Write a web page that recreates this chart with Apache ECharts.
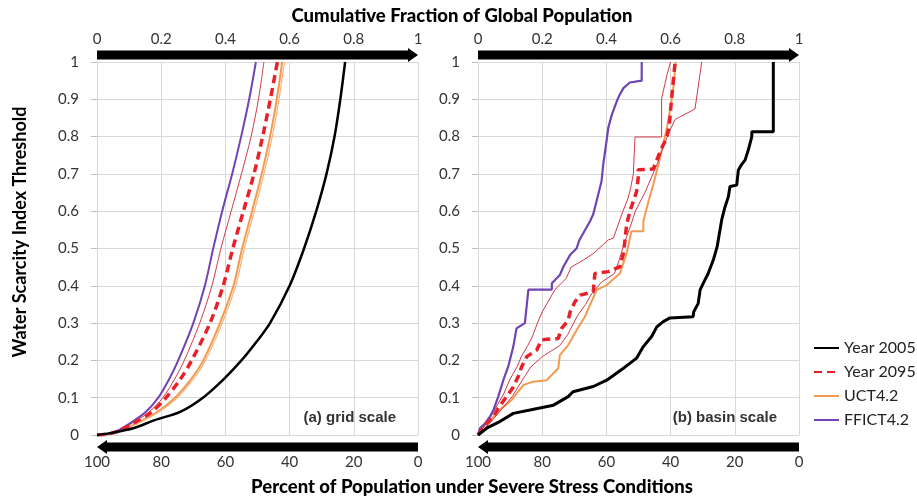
<!DOCTYPE html>
<html><head><meta charset="utf-8">
<script src="https://cdn.jsdelivr.net/npm/echarts@6/dist/echarts.min.js"></script>
<style>html,body{margin:0;padding:0;background:#fff}#main{width:917px;height:496px}</style>
</head><body><div id="main"></div>
<script>
// ---------- tick labels ----------
const topTickLabels = ['0', '0.2', '0.4', '0.6', '0.8', '1'];
const bottomTickLabels = ['100', '80', '60', '40', '20', '0'];
const yTickLabels = ['0', '0.1', '0.2', '0.3', '0.4', '0.5', '0.6', '0.7', '0.8', '0.9', '1'];
const legendNames = ['Year 2005', 'Year 2095', 'UCT4.2', 'FFICT4.2'];
const panelLabels = ['(a) grid scale', '(b) basin scale'];

// ---------- (a) grid scale: x = cumulative fraction, y = threshold ----------
const gridBlackX = [0, 0.04, 0.113, 0.18, 0.259, 0.33, 0.395, 0.45, 0.497, 0.539, 0.6, 0.645, 0.683, 0.715, 0.74, 0.758, 0.773];
const gridBlackY = [0, 0.005, 0.018, 0.04, 0.062, 0.1, 0.15, 0.2, 0.25, 0.3, 0.4, 0.5, 0.6, 0.7, 0.8, 0.9, 1.0];
const gridLevels = [0, 0.002, 0.01, 0.03, 0.06, 0.1, 0.15, 0.2, 0.3, 0.4, 0.5, 0.6, 0.7, 0.8, 0.9, 1.0];
const gridPurpleX = [0, 0.03, 0.06, 0.1, 0.15, 0.191, 0.225, 0.253, 0.30, 0.336, 0.362, 0.39, 0.421, 0.449, 0.474, 0.495];
const gridThinRedX = [0, 0.03, 0.062, 0.105, 0.16, 0.205, 0.242, 0.272, 0.32, 0.358, 0.386, 0.418, 0.45, 0.48, 0.503, 0.52];
const gridDashedX = [0, 0.03, 0.065, 0.11, 0.168, 0.215, 0.26, 0.295, 0.352, 0.393, 0.423, 0.456, 0.489, 0.516, 0.54, 0.562];
const gridOrangeX = [0, 0.03, 0.068, 0.12, 0.185, 0.243, 0.293, 0.331, 0.383, 0.425, 0.452, 0.483, 0.513, 0.539, 0.56, 0.577];
const gridOrange2X = [0, 0.03, 0.07, 0.124, 0.19, 0.25, 0.3, 0.338, 0.39, 0.432, 0.459, 0.49, 0.52, 0.546, 0.567, 0.584];

// ---------- (b) basin scale ----------
const basinBlackX = [0, 0.006, 0.03, 0.068, 0.11, 0.162, 0.235, 0.281, 0.296, 0.359, 0.401, 0.453, 0.473, 0.494, 0.515, 0.541, 0.557, 0.577, 0.598, 0.67, 0.672, 0.686, 0.692, 0.702, 0.717, 0.733, 0.745, 0.752, 0.759, 0.769, 0.78, 0.785, 0.806, 0.811, 0.821, 0.832, 0.842, 0.853, 0.853, 0.92, 0.92];
const basinBlackY = [0, 0.005, 0.02, 0.036, 0.058, 0.067, 0.08, 0.103, 0.116, 0.13, 0.147, 0.179, 0.192, 0.206, 0.237, 0.264, 0.29, 0.304, 0.314, 0.317, 0.33, 0.353, 0.389, 0.407, 0.433, 0.469, 0.505, 0.54, 0.576, 0.61, 0.639, 0.666, 0.67, 0.71, 0.725, 0.737, 0.764, 0.8, 0.813, 0.813, 1.0];
const basinPurpleX = [0, 0.006, 0.022, 0.037, 0.048, 0.063, 0.079, 0.094, 0.11, 0.12, 0.146, 0.157, 0.23, 0.23, 0.255, 0.266, 0.287, 0.307, 0.316, 0.349, 0.359, 0.372, 0.385, 0.39, 0.399, 0.406, 0.417, 0.432, 0.44, 0.453, 0.473, 0.51, 0.51];
const basinPurpleY = [0, 0.018, 0.031, 0.049, 0.067, 0.103, 0.147, 0.183, 0.237, 0.286, 0.3, 0.39, 0.39, 0.407, 0.429, 0.451, 0.483, 0.5, 0.523, 0.573, 0.592, 0.636, 0.681, 0.725, 0.779, 0.824, 0.859, 0.894, 0.91, 0.93, 0.945, 0.95, 1.0];
const basinDashedX = [0, 0.022, 0.048, 0.063, 0.089, 0.11, 0.125, 0.136, 0.152, 0.183, 0.198, 0.25, 0.26, 0.281, 0.287, 0.302, 0.318, 0.359, 0.364, 0.406, 0.442, 0.453, 0.458, 0.463, 0.473, 0.494, 0.499, 0.499, 0.546, 0.551, 0.572, 0.588, 0.596, 0.603, 0.614];
const basinDashedY = [0, 0.027, 0.049, 0.072, 0.103, 0.129, 0.156, 0.183, 0.21, 0.228, 0.255, 0.259, 0.285, 0.308, 0.33, 0.357, 0.375, 0.384, 0.433, 0.438, 0.451, 0.487, 0.523, 0.564, 0.599, 0.653, 0.689, 0.711, 0.713, 0.725, 0.769, 0.796, 0.832, 0.9, 1.0];
const basinOrangeX = [0, 0.022, 0.048, 0.074, 0.105, 0.125, 0.141, 0.172, 0.214, 0.25, 0.255, 0.281, 0.307, 0.333, 0.349, 0.37, 0.401, 0.442, 0.463, 0.478, 0.515, 0.515, 0.531, 0.546, 0.562, 0.577, 0.59, 0.6, 0.61, 0.616];
const basinOrangeY = [0, 0.027, 0.049, 0.072, 0.094, 0.116, 0.134, 0.143, 0.147, 0.179, 0.214, 0.241, 0.281, 0.317, 0.349, 0.389, 0.402, 0.433, 0.487, 0.546, 0.546, 0.573, 0.626, 0.671, 0.725, 0.779, 0.83, 0.88, 0.94, 1.0];
const basinThinRedAX = [0, 0.02, 0.04, 0.06, 0.08, 0.1, 0.12, 0.135, 0.155, 0.17, 0.185, 0.2, 0.22, 0.24, 0.275, 0.29, 0.33, 0.36, 0.406, 0.422, 0.448, 0.468, 0.475, 0.484, 0.489, 0.572, 0.572, 0.59, 0.6];
const basinThinRedAY = [0, 0.025, 0.05, 0.08, 0.11, 0.15, 0.18, 0.21, 0.24, 0.265, 0.3, 0.33, 0.36, 0.39, 0.42, 0.45, 0.47, 0.487, 0.523, 0.528, 0.592, 0.636, 0.66, 0.7, 0.799, 0.799, 0.902, 0.97, 1.0];
const basinThinRedBX = [0, 0.04, 0.075, 0.108, 0.14, 0.165, 0.2, 0.255, 0.28, 0.31, 0.335, 0.355, 0.385, 0.425, 0.44, 0.458, 0.475, 0.49, 0.52, 0.545, 0.56, 0.58, 0.6, 0.614, 0.676, 0.697];
const basinThinRedBY = [0, 0.035, 0.07, 0.105, 0.15, 0.183, 0.21, 0.24, 0.27, 0.32, 0.35, 0.38, 0.41, 0.433, 0.47, 0.52, 0.56, 0.6, 0.65, 0.7, 0.73, 0.78, 0.82, 0.846, 0.874, 1.0];

// ---------- styling ----------
const FONT = 'Lato, "Open Sans", sans-serif';
const LABEL_FONT = '"Liberation Sans", Arial, sans-serif';
const C_BLACK = '#000000', C_RED = '#e8202a', C_THIN = '#cf3a4a', C_ORANGE = '#f39a4f', C_ORANGE2 = '#f7b27a', C_PURPLE = '#7044b4';
const GRIDLINE = '#d9d9d9';
const TICK_COLOR = '#333333';

function zip(xs, ys) { return xs.map((x, i) => [x, ys[i]]); }

const grids = [
  { left: 97, top: 62, width: 321, height: 373, outerBoundsMode: 'none' },
  { left: 478, top: 62, width: 321, height: 373, outerBoundsMode: 'none' }
];

const xAxes = [], yAxes = [];
[0, 1].forEach(g => {
  xAxes.push({
    gridIndex: g, type: 'value', position: 'top', min: 0, max: 1, interval: 0.2,
    axisLine: { show: false }, axisTick: { show: false },
    axisLabel: { margin: 15, fontSize: 15, color: TICK_COLOR, fontFamily: FONT,
      formatter: v => topTickLabels[Math.round(v / 0.2)] },
    splitLine: { show: true, lineStyle: { color: GRIDLINE, width: 1 } }
  });
  xAxes.push({
    gridIndex: g, type: 'value', position: 'bottom', min: 0, max: 1, interval: 0.2,
    axisLine: { show: false }, axisTick: { show: false },
    axisLabel: { margin: 20, fontSize: 15, color: TICK_COLOR, fontFamily: FONT,
      formatter: v => bottomTickLabels[Math.round(v / 0.2)] },
    splitLine: { show: false }
  });
  yAxes.push({
    gridIndex: g, type: 'value', min: 0, max: 1, interval: 0.1,
    axisLine: { show: false },
    axisTick: { show: true, length: 6, lineStyle: { color: '#bfbfbf' } },
    axisLabel: { margin: 18, fontSize: 15, color: TICK_COLOR, fontFamily: FONT,
      formatter: v => yTickLabels[Math.round(v * 10)] },
    splitLine: { show: true, lineStyle: { color: GRIDLINE, width: 1 } }
  });
});

function line(name, panel, data, color, width, opts) {
  return Object.assign({
    name: name, type: 'line', xAxisIndex: panel * 2, yAxisIndex: panel,
    data: data, symbol: 'none', showSymbol: false, animation: false,
    smooth: panel === 0 ? 0.3 : false,
    lineStyle: { color: color, width: width, type: 'solid' },
    itemStyle: { color: color },
    emphasis: { disabled: true }
  }, opts || {});
}
const dashed = { lineStyle: { color: C_RED, width: 3.5, type: [8, 5] } };

const series = [
  // panel (a)
  line('UCT4.2', 0, zip(gridOrangeX, gridLevels), C_ORANGE, 2),
  line('UCT4.2 b', 0, zip(gridOrange2X, gridLevels), C_ORANGE2, 1.2),
  line('thin a', 0, zip(gridThinRedX, gridLevels), C_THIN, 1),
  line('FFICT4.2', 0, zip(gridPurpleX, gridLevels), C_PURPLE, 2),
  line('Year 2095', 0, zip(gridDashedX, gridLevels), C_RED, 3.5, dashed),
  line('Year 2005', 0, zip(gridBlackX, gridBlackY), C_BLACK, 2.5),
  // panel (b)
  line('UCT4.2', 1, zip(basinOrangeX, basinOrangeY), C_ORANGE, 2),
  line('thin bA', 1, zip(basinThinRedAX, basinThinRedAY), C_THIN, 1),
  line('thin bB', 1, zip(basinThinRedBX, basinThinRedBY), C_THIN, 1),
  line('FFICT4.2', 1, zip(basinPurpleX, basinPurpleY), C_PURPLE, 2.2),
  line('Year 2095', 1, zip(basinDashedX, basinDashedY), C_RED, 3.5, dashed),
  line('Year 2005', 1, zip(basinBlackX, basinBlackY), C_BLACK, 3)
];

const option = {
  backgroundColor: '#ffffff',
  animation: false,
  grid: grids,
  xAxis: xAxes,
  yAxis: yAxes,
  legend: {
    data: legendNames, orient: 'vertical', left: 808, top: 335,
    itemWidth: 25, itemHeight: 14, itemGap: 8,
    itemStyle: { color: 'rgba(0,0,0,0)', borderColor: 'rgba(0,0,0,0)', borderWidth: 0, opacity: 0 },
    textStyle: { fontSize: 16, color: '#222', fontFamily: FONT },
    selectedMode: false
  },
  series: series
};

const chart = echarts.init(document.getElementById('main'), null, { renderer: 'canvas' });
chart.setOption(option);

// decorations: arrows and titles, positioned from the axes
const gfx = [];
const bh = 4.5, hw = 7, hl = 10;
[0, 1].forEach(g => {
  const tl = chart.convertToPixel({ gridIndex: g }, [0, 1]);
  const br = chart.convertToPixel({ gridIndex: g }, [1, 0]);
  const x0 = tl[0], x1 = br[0];
  const yT = tl[1] - 7, yB = br[1] + 12;
  gfx.push({ type: 'polygon', silent: true, z: 100, shape: { points: [[x0, yT - bh], [x1 - hl, yT - bh], [x1 - hl, yT - hw], [x1, yT], [x1 - hl, yT + hw], [x1 - hl, yT + bh], [x0, yT + bh]] }, style: { fill: '#000' } });
  gfx.push({ type: 'polygon', silent: true, z: 100, shape: { points: [[x1, yB - bh], [x0 + hl, yB - bh], [x0 + hl, yB - hw], [x0, yB], [x0 + hl, yB + hw], [x0 + hl, yB + bh], [x1, yB + bh]] }, style: { fill: '#000' } });
  gfx.push({ type: 'text', silent: true, z: 100, style: { text: panelLabels[g], x: x1 - 22, y: br[1] - 17, align: 'right', verticalAlign: 'middle', fontSize: 15, fontWeight: 'bold', fontFamily: LABEL_FONT, fill: '#333' } });
});
const titleStyle = { align: 'center', verticalAlign: 'middle', fontSize: 18.5, fontWeight: 900, fontFamily: FONT, fill: '#000' };
gfx.push({ type: 'text', silent: true, style: Object.assign({ text: 'Cumulative Fraction of Global Population', x: 462, y: 16 }, titleStyle) });
gfx.push({ type: 'text', silent: true, style: Object.assign({ text: 'Percent of Population under Severe Stress Conditions', x: 472, y: 487 }, titleStyle) });
gfx.push({ type: 'text', silent: true, x: 20, y: 232, rotation: Math.PI / 2, style: Object.assign({ text: 'Water Scarcity Index Threshold', x: 0, y: 0 }, titleStyle, { fontSize: 18, fontWeight: 'bold' }) });
chart.setOption({ graphic: gfx });
</script>
</body></html>
